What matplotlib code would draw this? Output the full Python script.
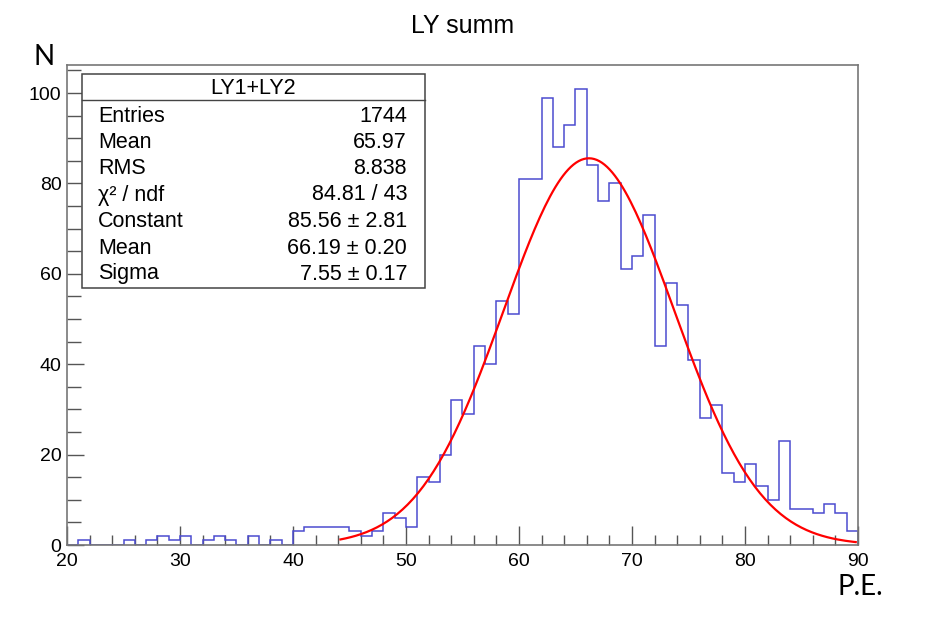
import numpy as np
import matplotlib
matplotlib.use("Agg")
import matplotlib.pyplot as plt
from matplotlib.ticker import MultipleLocator

# Histogram contents, 1 P.E. bins from 20 to 90
bin_edges = np.arange(20, 91, 1)
counts = [0, 1, 0, 0, 0, 1, 0, 1, 2, 1,      # 20-29
          2, 0, 1, 2, 1, 0, 2, 0, 1, 0,      # 30-39
          3, 4, 4, 4, 4, 3, 2, 3, 7, 6,      # 40-49
          4, 15, 14, 20, 32, 29, 44, 40, 54, 51,   # 50-59
          81, 81, 99, 88, 93, 101, 84, 76, 80, 61,  # 60-69
          64, 73, 44, 58, 53, 41, 28, 31, 16, 14,   # 70-79
          18, 13, 10, 23, 8, 8, 7, 9, 7, 3]         # 80-89

# Gaussian fit result
fit_const, fit_mean, fit_sigma = 85.56, 66.19, 7.55
fit_lo, fit_hi = 44.2, 89.8

stat_labels = ["Entries", "Mean", "RMS", "χ² / ndf", "Constant", "Mean", "Sigma"]
stat_values = ["1744", "65.97", "8.838", "84.81 / 43",
               "85.56 ± 2.81", "66.19 ± 0.20", "7.55 ± 0.17"]

W, H = 931, 640
fig = plt.figure(figsize=(W / 100, H / 100), dpi=100)
ax = fig.add_axes([67 / W, 1 - 545 / H, (858 - 67) / W, (545 - 65) / H])

def fx(px):
    return px / W

def fy(py):
    return 1 - py / H

hist_font = "Liberation Sans"

ax.stairs(counts, bin_edges, color="#4b4bd0", lw=1.1, zorder=2)
xs = np.linspace(fit_lo, fit_hi, 200)
ys = fit_const * np.exp(-0.5 * ((xs - fit_mean) / fit_sigma) ** 2)
ax.plot(xs, ys, color="red", lw=1.6, zorder=3)

ax.set_xlim(20, 90)
ax.set_ylim(0, 106.2)
ax.xaxis.set_major_locator(MultipleLocator(10))
ax.xaxis.set_minor_locator(MultipleLocator(2))
ax.yaxis.set_major_locator(MultipleLocator(20))
ax.yaxis.set_minor_locator(MultipleLocator(5))
ax.tick_params(axis="x", which="major", direction="in", length=14, width=1, color="#555555", pad=6)
ax.tick_params(axis="x", which="minor", direction="in", length=7, width=1, color="#555555")
ax.tick_params(axis="y", which="major", direction="in", length=12, width=1, color="#555555", pad=4)
ax.tick_params(axis="y", which="minor", direction="in", length=10, width=1, color="#555555")
for lab in ax.get_xticklabels() + ax.get_yticklabels():
    lab.set_fontfamily(hist_font)
    lab.set_fontsize(14)
for sp in ax.spines.values():
    sp.set_color("#777777")
    sp.set_linewidth(1.2)
    sp.set_zorder(2.5)

fig.text(fx(463), fy(26), "LY summ", ha="center", va="center",
         fontsize=18, family=hist_font)
fig.text(fx(44), fy(57), "N", ha="center", va="center", fontsize=20, family="Lato")
fig.text(fx(860), fy(587), "P.E.", ha="center", va="center", fontsize=20, family="Lato")

# stats box
bx0, bx1, by0, by1 = 81.5, 425, 74, 288
box = plt.Rectangle((fx(bx0), fy(by1)), fx(bx1) - fx(bx0), fy(by0) - fy(by1),
                    transform=fig.transFigure, facecolor="white",
                    edgecolor="#444444", lw=1.1, zorder=5)
fig.add_artist(box)
fig.add_artist(plt.Line2D([fx(bx0), fx(bx1)], [fy(100), fy(100)],
                          transform=fig.transFigure, color="#444444", lw=1.0, zorder=6))
fig.text(fx((bx0 + bx1) / 2), fy(88), "LY1+LY2", ha="center", va="center",
         fontsize=15.5, family=hist_font, zorder=7)
row_y = [116, 142, 168, 195, 221.5, 248, 274]
for lbl, val, ry in zip(stat_labels, stat_values, row_y):
    fig.text(fx(98), fy(ry), lbl, ha="left", va="center",
             fontsize=15.5, family=hist_font, zorder=7)
    fig.text(fx(407), fy(ry), val, ha="right", va="center",
             fontsize=15.5, family=hist_font, zorder=7)

fig.savefig("out.png", dpi=100)
